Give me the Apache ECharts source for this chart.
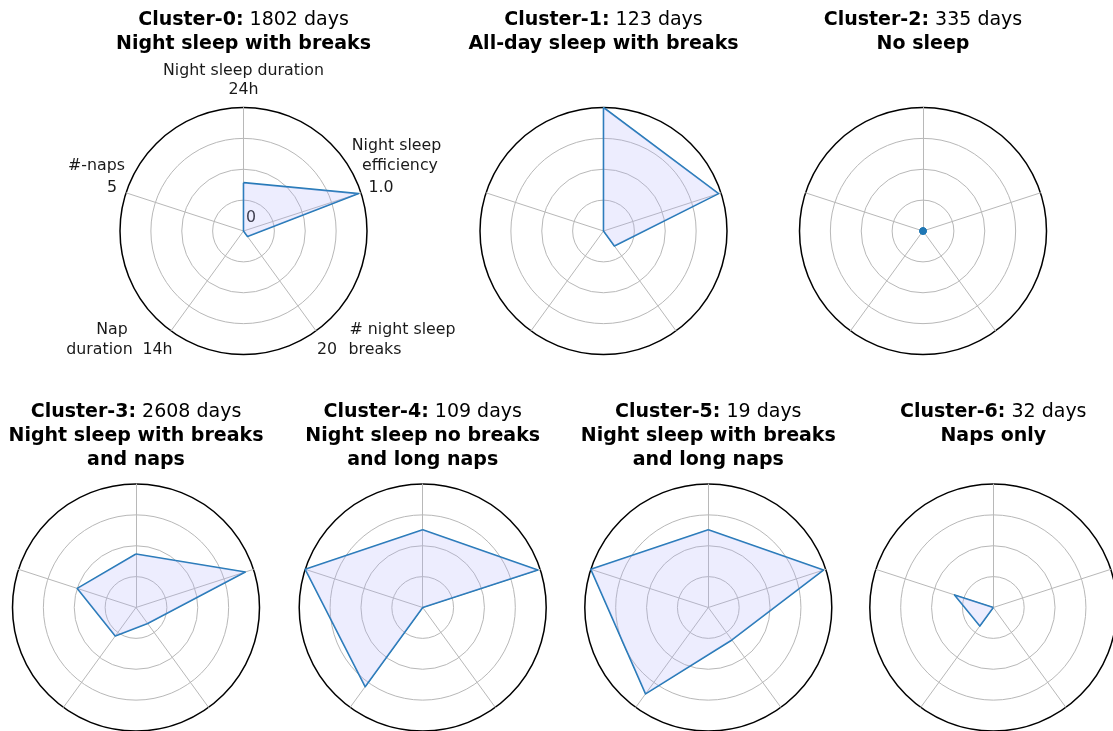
<!DOCTYPE html>
<html>
<head>
<meta charset="utf-8">
<script src="https://cdn.jsdelivr.net/npm/echarts@6/dist/echarts.min.js"></script>
<style>
html,body{margin:0;padding:0;background:#fff;}
#chart{width:1113px;height:731px;}
</style>
</head>
<body>
<div id="chart"></div>
<script>
// Indicators in clockwise order starting from the top
const indicatorNames = ['Night sleep duration', 'Night sleep efficiency', '# night sleep breaks', 'Nap duration', '#-naps'];
const indicatorMax = [24, 1.0, 20, 14, 5];

const clusterNames = ['Cluster-0:', 'Cluster-1:', 'Cluster-2:', 'Cluster-3:', 'Cluster-4:', 'Cluster-5:', 'Cluster-6:'];
const clusterDays = [1802, 123, 335, 2608, 109, 19, 32];
const clusterLabels = [
  ['Night sleep with breaks'],
  ['All-day sleep with breaks'],
  ['No sleep'],
  ['Night sleep with breaks', 'and naps'],
  ['Night sleep no breaks', 'and long naps'],
  ['Night sleep with breaks', 'and long naps'],
  ['Naps only']
];

// values: [night sleep h, efficiency, # breaks, nap h, # naps]
const cluster0 = [9.4, 0.98, 1.1, 0, 0];
const cluster1 = [24, 0.98, 3, 0, 0];
const cluster2 = [0, 0, 0, 0, 0];
const cluster3 = [10.4, 0.93, 3.2, 4.0, 2.5];
const cluster4 = [15.1, 0.98, 0, 11.1, 5];
const cluster5 = [15.1, 0.98, 6.5, 12.1, 5];
const cluster6 = [0, 0, 0, 2.6, 1.65];
const clusterValues = [cluster0, cluster1, cluster2, cluster3, cluster4, cluster5, cluster6];

// axis annotation texts for the first panel
const maxLabels = ['24h', '1.0', '20', '14h', '5'];

const FONT = 'DejaVu Sans';
const R = 123.5;
const centers = [
  [243.5, 231], [603.5, 231], [923, 231],
  [136, 607.5], [422.7, 607.5], [708.3, 607.5], [993.3, 607.5]
];
const titleTops = [8, 8, 8, 400, 400, 400, 400];

// ECharts radar places indicators counter-clockwise: reorder
const ccwOrder = [0, 4, 3, 2, 1];

const radar = [], series = [], title = [];
clusterValues.forEach((vals, i) => {
  radar.push({
    center: centers[i],
    radius: R,
    shape: 'circle',
    splitNumber: 4,
    startAngle: 90,
    indicator: ccwOrder.map(k => ({ name: '', min: 0, max: indicatorMax[k] })),
    axisName: { show: false },
    axisLine: { lineStyle: { color: '#b8b8b8', width: 1 } },
    splitLine: { lineStyle: { color: ['#b8b8b8', '#b8b8b8', '#b8b8b8', '#b8b8b8', 'rgba(0,0,0,0)'], width: 1 } },
    splitArea: { show: false },
    axisTick: { show: false },
    axisLabel: { show: false }
  });
  const isZero = vals.every(v => v === 0);
  series.push({
    type: 'radar',
    radarIndex: i,
    silent: true,
    z: 3,
    symbol: isZero ? 'circle' : 'none',
    symbolSize: 7,
    itemStyle: { color: '#1f77b4' },
    lineStyle: { color: '#1f77b4', width: 1.6 },
    areaStyle: { color: 'rgba(175,175,250,0.32)' },
    data: [{ value: ccwOrder.map(k => vals[k]) }]
  });
  const lines = ['{b|' + clusterNames[i] + '} ' + clusterDays[i] + ' days'].concat(clusterLabels[i].map(s => '{b|' + s + '}'));
  title.push({
    text: lines.join('\n'),
    left: centers[i][0],
    top: titleTops[i],
    textAlign: 'center',
    padding: 0,
    textStyle: {
      fontFamily: FONT, fontSize: 19, fontWeight: 'normal', color: '#000', lineHeight: 24,
      rich: { b: { fontFamily: FONT, fontSize: 19, fontWeight: 'bold', color: '#000', lineHeight: 24 } }
    }
  });
});
// outer black frame circles (one extra radar per panel, only its outer ring drawn)
clusterValues.forEach((vals, i) => {
  radar.push({
    center: centers[i],
    radius: R,
    shape: 'circle',
    splitNumber: 1,
    indicator: ccwOrder.map(k => ({ name: '', min: 0, max: indicatorMax[k] })),
    axisName: { show: false },
    axisLine: { show: false },
    splitLine: { lineStyle: { color: ['rgba(0,0,0,0)', '#000'], width: 1.5 } },
    splitArea: { show: false },
    axisTick: { show: false },
    axisLabel: { show: false }
  });
});

// annotation texts around first panel (offsets from centre)
const c0 = centers[0];
const annots = [
  ['Night sleep duration', 0, -160], [maxLabels[0], 0, -141],
  ['Night sleep', 153, -85], ['efficiency', 156.5, -65], [maxLabels[1], 137.5, -43],
  ['#-naps', -147, -65], [maxLabels[4], -131.5, -43],
  ['Nap', -131.5, 99], ['duration', -144, 119], [maxLabels[3], -86, 119],
  ['# night sleep', 159, 99], ['breaks', 131.5, 119], [maxLabels[2], 83.5, 119],
  ['0', 7.5, -13]
];
const graphic = annots.map(a => ({
  type: 'text',
  x: c0[0] + a[1], y: c0[1] + a[2],
  silent: true,
  style: { text: a[0], fontFamily: FONT, fontSize: 15.8, fill: '#1a1a1a', textAlign: 'center', textVerticalAlign: 'middle' }
}));

const chart = echarts.init(document.getElementById('chart'));
chart.setOption({
  animation: false,
  backgroundColor: '#fff',
  title, radar, series, graphic
});
</script>
</body>
</html>
